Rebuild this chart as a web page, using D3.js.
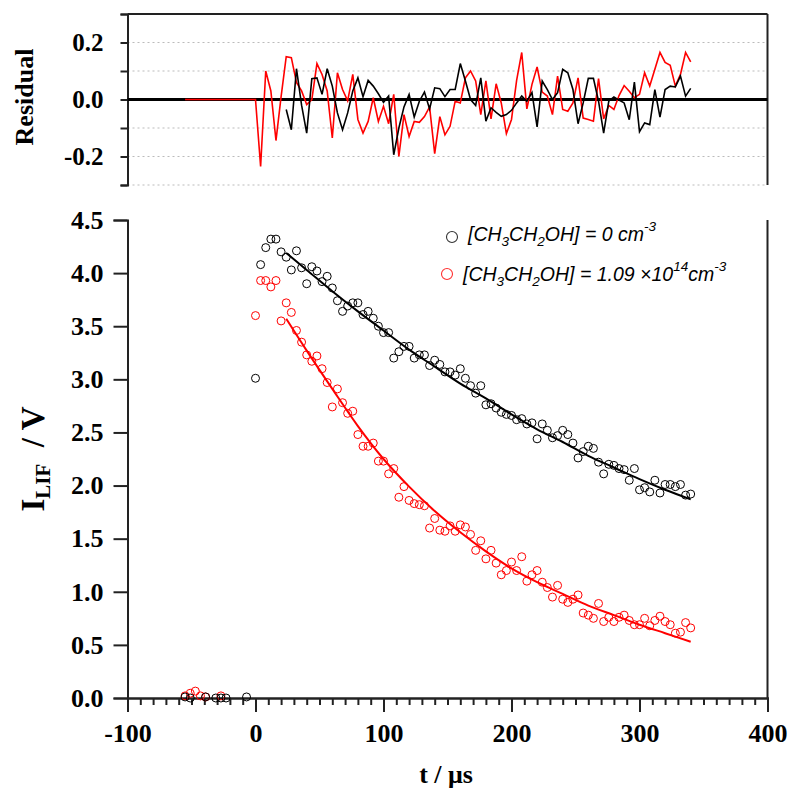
<!DOCTYPE html>
<html><head><meta charset="utf-8">
<script src="https://cdn.jsdelivr.net/npm/d3@7"></script>
<style>body{margin:0;background:#fff}</style>
</head><body>
<svg id="chart" width="800" height="803"></svg>
<script>
// ---------- DATA ----------
const timeGrid = [0,4,8,12,16,20,24,28,32,36,40,44,48,52,56,60,64,68,72,76,80,84,88,92,96,100,104,108,112,116,120,124,128,132,136,140,144,148,152,156,160,164,168,172,176,180,184,188,192,196,200,204,208,212,216,220,224,228,232,236,240,244,248,252,256,260,264,268,272,276,280,284,288,292,296,300,304,308,312,316,320,324,328,332,336,340];

const preTimesBlack = [-55,-51,-39,-31,-27,-23,-7];
const preBlack = [0.01,0.0,0.01,0.0,0.0,0.0,0.01];
const preTimesRed = [-55,-51,-47,-43,-39,-27];
const preRed = [0.02,0.045,0.065,0.02,0.01,0.02];

const blackSignal = [3.01,4.08,4.24,4.32,4.32,4.20,4.15,4.03,4.21,4.05,3.90,4.06,4.02,3.92,3.97,3.86,3.74,3.64,3.69,3.72,3.72,3.61,3.64,3.575,3.50,3.44,3.44,3.20,3.26,3.31,3.31,3.20,3.23,3.23,3.13,3.18,3.14,3.07,3.07,3.04,3.10,3.01,2.94,2.87,2.94,2.76,2.77,2.73,2.69,2.67,2.66,2.62,2.63,2.58,2.59,2.44,2.58,2.52,2.45,2.47,2.52,2.48,2.40,2.26,2.32,2.37,2.35,2.22,2.11,2.20,2.19,2.16,2.15,2.05,2.16,1.96,1.98,1.94,2.05,1.93,2.01,2.01,1.99,2.01,1.91,1.92];

const redSignal = [3.60,3.93,3.93,3.87,3.93,3.55,3.72,3.63,3.46,3.35,3.23,3.17,3.22,3.10,2.97,2.74,2.91,2.78,2.68,2.70,2.48,2.37,2.37,2.40,2.23,2.23,2.11,2.16,1.89,1.99,1.86,1.83,1.82,1.81,1.60,1.69,1.58,1.57,1.62,1.57,1.63,1.61,1.54,1.39,1.48,1.31,1.39,1.27,1.16,1.20,1.28,1.20,1.33,1.10,1.16,1.20,1.09,1.04,0.95,1.06,0.93,0.90,0.93,0.97,0.80,0.78,0.75,0.89,0.72,0.76,0.72,0.76,0.78,0.73,0.69,0.69,0.75,0.68,0.73,0.77,0.72,0.69,0.61,0.62,0.71,0.66];

const fitTimes = [24,40,60,80,100,120,140,160,180,200,220,240,260,280,300,320,340];
const blackFit = [4.19,4.03,3.83,3.64,3.46,3.28,3.12,2.96,2.82,2.67,2.53,2.41,2.28,2.17,2.06,1.96,1.87];
const redFit   = [3.57,3.27,2.91,2.56,2.25,1.99,1.76,1.56,1.38,1.22,1.09,0.98,0.87,0.78,0.69,0.61,0.53];

const blackResidTimes = timeGrid.slice(6);
const blackResidual = [-0.035,-0.106,0.108,-0.02,-0.118,0.073,0.076,0.018,0.108,0.047,-0.047,-0.106,-0.047,0.03,0.076,0.01,0.067,0.047,0.02,-0.01,0.012,-0.194,-0.1,-0.026,0.018,-0.061,-0.006,0.026,-0.033,0.041,0.038,0.01,0.035,0.035,0.126,0.065,0,
 -0.021,0.076,-0.076,-0.029,-0.045,-0.059,-0.053,-0.038,-0.012,0.012,-0.006,0.024,-0.096,0.065,0.035,0,0.024,0.106,0.094,0.035,-0.085,-0.012,0.074,0.074,-0.006,-0.118,-0.006,0.009,-0.002,-0.012,-0.071,0.061,-0.113,-0.082,-0.088,0.035,-0.062,0.035,0.047,0.044,0.082,0.012,0.039];

const redResidTimes = [-55].concat(timeGrid);
const redResidual = [0, 0,-0.235,0.10,0.03,-0.144,0.01,0.15,0.147,0.06,0.03,-0.018,0.0,0.126,0.088,0.03,-0.135,0.094,0.035,-0.005,0.088,-0.07,-0.118,-0.077,0.006,-0.077,-0.024,-0.085,0.018,-0.2,-0.053,-0.13,-0.077,-0.08,-0.06,-0.026,-0.19,-0.06,-0.124,-0.094,-0.006,-0.012,0.076,
 0.10,0.065,-0.053,0.065,-0.068,0.055,-0.012,-0.12,-0.07,0.067,0.165,-0.033,0.053,0.114,0.026,0.012,-0.053,0.082,-0.035,-0.041,-0.012,0.076,-0.065,-0.07,-0.076,0.073,-0.068,-0.021,-0.035,0.014,0.049,0.029,0.006,0.018,0.094,0.047,0.106,0.165,0.13,0.12,0.047,0.088,0.165,0.132];

const xMajorTicks = [-100,0,100,200,300,400];
const yBotTicks = [0,0.5,1,1.5,2,2.5,3,3.5,4,4.5];
const yTopTicks = [-0.3,-0.2,-0.1,0,0.1,0.2,0.3];
const yTopLabels = [0.2,0,-0.2];
const yTopGrid = [-0.3,-0.2,-0.1,0.1,0.2];

// ---------- DRAW ----------
const svg = d3.select("#chart");
const serif = "'Liberation Serif','Times New Roman',serif";
const sans = "'Liberation Sans',Arial,sans-serif";
const axisColor = "#222";

const x = d3.scaleLinear().domain([-100,400]).range([127.5,767.5]);
const yTop = d3.scaleLinear().domain([-0.3,0.3]).range([185,14]);
const yBot = d3.scaleLinear().domain([0,4.5]).range([698,220]);
const fmt = v => d3.format(".1f")(v).replace("−","-");

function styleAxis(g, fs){
  g.selectAll("path.domain").attr("stroke",axisColor).attr("stroke-width",2);
  g.selectAll(".tick line").attr("stroke",axisColor).attr("stroke-width",2);
  g.selectAll(".tick text").attr("font-family",serif).attr("font-weight","bold")
    .attr("font-size",fs).attr("fill","#000");
}

// ---- Top panel (residuals) ----
const gTop = svg.append("g");
gTop.append("g").selectAll("line").data(yTopGrid).join("line")
  .attr("x1",x(-100)).attr("x2",x(400))
  .attr("y1",d=>yTop(d)).attr("y2",d=>yTop(d))
  .attr("stroke","#bbb").attr("stroke-width",1).attr("stroke-dasharray","2,3");
gTop.append("line").attr("x1",x(-100)).attr("x2",x(400)).attr("y1",yTop(0.3)).attr("y2",yTop(0.3))
  .attr("stroke",axisColor).attr("stroke-width",2);
gTop.append("line").attr("x1",x(400)).attr("x2",x(400)).attr("y1",yTop(0.3)).attr("y2",yTop(-0.3))
  .attr("stroke",axisColor).attr("stroke-width",2);
const gTopAxis = gTop.append("g").attr("transform",`translate(${x(-100)},0)`)
  .call(d3.axisLeft(yTop).tickValues(yTopTicks).tickSize(7).tickPadding(17)
    .tickFormat(d => yTopLabels.some(v=>Math.abs(v-d)<1e-9) ? fmt(d) : ""));
styleAxis(gTopAxis, 25);
gTop.append("line").attr("x1",x(-100)).attr("x2",x(400)).attr("y1",yTop(0)).attr("y2",yTop(0))
  .attr("stroke","#000").attr("stroke-width",3);
const lineTop = d3.line().x(d=>x(d[0])).y(d=>yTop(d[1]));
gTop.append("path").datum(redResidTimes.map((t,i)=>[t,redResidual[i]]))
  .attr("d",lineTop).attr("fill","none").attr("stroke","#ff0000").attr("stroke-width",1.6);
gTop.append("path").datum(blackResidTimes.map((t,i)=>[t,blackResidual[i]]))
  .attr("d",lineTop).attr("fill","none").attr("stroke","#000").attr("stroke-width",1.6);
gTop.append("text").attr("transform",`translate(33,97) rotate(-90)`)
  .attr("text-anchor","middle").attr("font-family",serif).attr("font-weight","bold")
  .attr("font-size",26).text("Residual");

// ---- Bottom panel ----
const gBot = svg.append("g");
gBot.append("line").attr("x1",x(400)).attr("x2",x(400)).attr("y1",yBot(4.5)).attr("y2",yBot(0))
  .attr("stroke",axisColor).attr("stroke-width",2);
const gMinor = gBot.append("g").attr("transform",`translate(0,${yBot(0)})`)
  .call(d3.axisBottom(x).tickValues(d3.range(-100,401,10)).tickSize(7).tickFormat(""));
styleAxis(gMinor, 24);
const gX = gBot.append("g").attr("transform",`translate(0,${yBot(0)})`)
  .call(d3.axisBottom(x).tickValues(xMajorTicks).tickSize(14).tickPadding(12)
    .tickFormat(d=>String(d)));
styleAxis(gX, 26);
const gY = gBot.append("g").attr("transform",`translate(${x(-100)},0)`)
  .call(d3.axisLeft(yBot).tickValues(yBotTicks).tickSize(14).tickPadding(10).tickFormat(fmt));
styleAxis(gY, 26);

const ptsBlack = preTimesBlack.map((t,i)=>[t,preBlack[i]]).concat(timeGrid.map((t,i)=>[t,blackSignal[i]]));
const ptsRed = preTimesRed.map((t,i)=>[t,preRed[i]]).concat(timeGrid.map((t,i)=>[t,redSignal[i]]));
gBot.append("g").selectAll("circle").data(ptsRed).join("circle")
  .attr("cx",d=>x(d[0])).attr("cy",d=>yBot(d[1])).attr("r",4)
  .attr("fill","none").attr("stroke","#ff0000").attr("stroke-width",1);
gBot.append("g").selectAll("circle").data(ptsBlack).join("circle")
  .attr("cx",d=>x(d[0])).attr("cy",d=>yBot(d[1])).attr("r",4)
  .attr("fill","none").attr("stroke","#000").attr("stroke-width",1);
const lineBot = d3.line().x(d=>x(d[0])).y(d=>yBot(d[1])).curve(d3.curveMonotoneX);
gBot.append("path").datum(fitTimes.map((t,i)=>[t,redFit[i]]))
  .attr("d",lineBot).attr("fill","none").attr("stroke","#ff0000").attr("stroke-width",2);
gBot.append("path").datum(fitTimes.map((t,i)=>[t,blackFit[i]]))
  .attr("d",lineBot).attr("fill","none").attr("stroke","#000").attr("stroke-width",2);

gBot.append("text").attr("x",446).attr("y",783).attr("text-anchor","middle")
  .attr("font-family",serif).attr("font-weight","bold").attr("font-size",26).text("t / μs");
const yl = gBot.append("text").attr("transform",`translate(44,459) rotate(-90)`)
  .attr("text-anchor","middle").attr("font-family",serif).attr("font-weight","bold").attr("font-size",33);
yl.append("tspan").text("I");
yl.append("tspan").attr("font-size",21).attr("dy",6).text("LIF");
yl.append("tspan").attr("dy",-6).text("\u00A0\u00A0/ V");

const legend = gBot.append("g");
function legendItem(cx, cy, color, tx, ty, parts){
  legend.append("circle").attr("cx",cx).attr("cy",cy).attr("r",5.5)
    .attr("fill","none").attr("stroke",color).attr("stroke-width",1.1);
  const t = legend.append("text").attr("x",tx).attr("y",ty).attr("font-family",sans)
    .attr("font-style","italic").attr("font-size",19.5).attr("fill","#000");
  let cur = 0;
  parts.forEach(p=>{
    const target = p.k==="sub"?5:(p.k==="sup"?-10:0);
    const ts = t.append("tspan").attr("dy",target-cur).text(p.s);
    if(p.k!=="n") ts.attr("font-size",13.5);
    cur = target;
  });
}
legendItem(452,237,"#333",468,241,[
  {s:"[CH",k:"n"},{s:"3",k:"sub"},{s:"CH",k:"n"},{s:"2",k:"sub"},{s:"OH] = 0 cm",k:"n"},{s:"-3",k:"sup"}]);
legendItem(447,274,"#ff3030",463,281,[
  {s:"[CH",k:"n"},{s:"3",k:"sub"},{s:"CH",k:"n"},{s:"2",k:"sub"},{s:"OH] = 1.09 \u00D710",k:"n"},{s:"14",k:"sup"},{s:"cm",k:"n"},{s:"-3",k:"sup"}]);
</script>
</body></html>
